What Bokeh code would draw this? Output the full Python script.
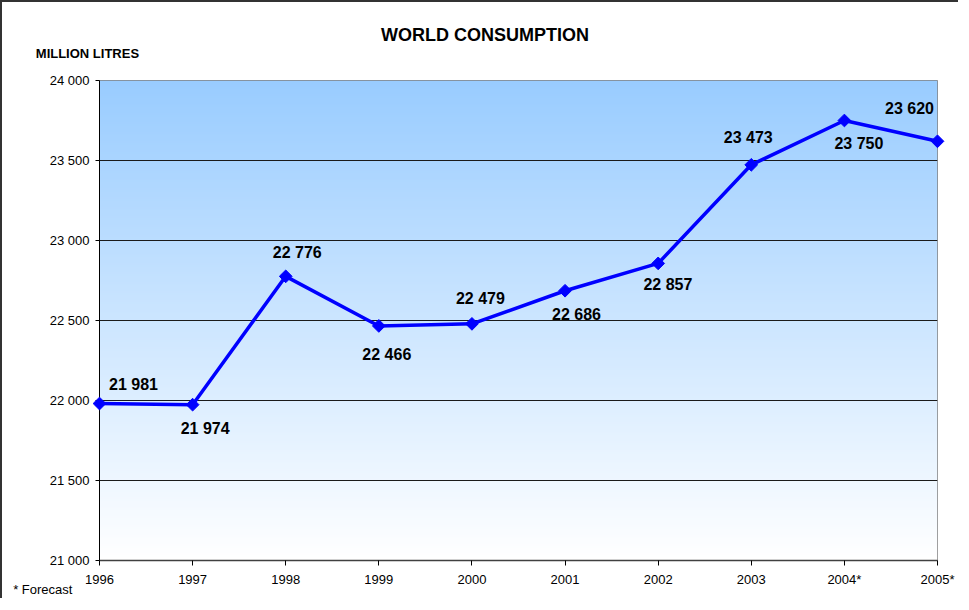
import numpy as np
from bokeh.plotting import figure
from bokeh.models import ColumnDataSource, FixedTicker, LabelSet, Range1d
from bokeh.core.properties import value
from bokeh.embed import file_html
from bokeh.resources import INLINE

# ---- data ----
years = ["1996", "1997", "1998", "1999", "2000", "2001", "2002", "2003", "2004*", "2005*"]
consumption = [21981, 21974, 22776, 22466, 22479, 22686, 22857, 23473, 23750, 23620]
value_labels = ["21 981", "21 974", "22 776", "22 466", "22 479", "22 686",
                "22 857", "23 473", "23 750", "23 620"]
y_ticks = [21000, 21500, 22000, 22500, 23000, 23500, 24000]
y_tick_labels = ["21 000", "21 500", "22 000", "22 500", "23 000", "23 500", "24 000"]
title_text = "WORLD CONSUMPTION"
unit_text = "MILLION LITRES"
note_text = "* Forecast"

# ---- label placement (screen px, up positive) ----
label_dx = [34, 12.5, 11.5, 8, 8.5, 11.5, 9.7, -3, 14.5, -28]
label_dy = [19, -24, 23.5, -28.4, 25, -23.5, -21, 27, -22.5, 32.5]

FONT = "Liberation Sans"
x = list(range(len(years)))
y0, y1 = y_ticks[0], y_ticks[-1]

p = figure(width=958, height=598, output_backend="svg", toolbar_location=None,
           x_range=Range1d(0, len(years) - 1), y_range=Range1d(y0, y1),
           min_border_left=97, min_border_right=23, min_border_top=78, min_border_bottom=40)
p.styles = {"border-left": "2px solid #333333", "border-top": "2px solid #333333"}
p.background_fill_color = "white"
p.border_fill_color = "white"
p.outline_line_color = "#808080"
p.outline_line_width = 1

# gradient background: #99CCFF at top to white at bottom
n = 256
t = np.linspace(0, 1, n)  # 0 bottom -> 1 top
top = np.array([153, 204, 255])
bot = np.array([255, 255, 255])
img = np.empty((n, 1), dtype=np.uint32)
view = img.view(dtype=np.uint8).reshape((n, 1, 4))
for i in range(n):
    c = bot + (top - bot) * t[i]
    view[i, 0, 0] = int(round(c[0]))
    view[i, 0, 1] = int(round(c[1]))
    view[i, 0, 2] = int(round(c[2]))
    view[i, 0, 3] = 255
p.image_rgba(image=[img], x=0, y=y0, dw=len(years) - 1, dh=y1 - y0, level="image")

# grid
p.xgrid.visible = False
p.ygrid.ticker = FixedTicker(ticks=y_ticks)
p.ygrid.grid_line_color = "#1a1a1a"
p.ygrid.grid_line_width = 1

# axes
p.yaxis.ticker = FixedTicker(ticks=y_ticks)
p.yaxis.major_label_overrides = dict(zip(y_ticks, y_tick_labels))
p.xaxis.ticker = FixedTicker(ticks=x)
p.xaxis.major_label_overrides = dict(zip(x, years))
for ax in (p.xaxis[0], p.yaxis[0]):
    ax.axis_line_color = "black"
    ax.axis_line_width = 1
    ax.major_tick_line_color = "black"
    ax.major_tick_in = 0
    ax.minor_tick_line_color = None
    ax.major_label_text_font = FONT
    ax.major_label_text_font_size = "13px"
    ax.major_label_text_color = "black"
p.yaxis.major_tick_out = 4
p.yaxis.major_label_standoff = 6
p.xaxis.major_tick_out = 5
p.xaxis.major_label_standoff = 6
p.xaxis.axis_line_color = "#404040"
p.xaxis.axis_line_width = 1.5

# series
src = ColumnDataSource(dict(x=x, y=consumption, lab=value_labels, dx=label_dx, dy=label_dy))
p.line("x", "y", source=src, line_color="#0000FF", line_width=3.5, level="overlay")
p.scatter("x", "y", source=src, marker="square", angle=np.pi / 4, size=9,
          fill_color="#0000FF", line_color="#0000FF", level="overlay")

labels = LabelSet(x="x", y="y", text="lab", source=src, x_offset="dx", y_offset="dy",
                  text_font=value(FONT), text_font_size="16px", text_font_style="bold",
                  text_align="center", text_baseline="middle", text_color="black")
p.add_layout(labels)

# texts outside the frame (text glyphs on overlay level are not clipped)
p.text(x=[0], y=[y1], text=[title_text], x_offset=385.5, y_offset=-46,
       text_font=value(FONT), text_font_size="18px", text_font_style="bold",
       text_align="center", text_baseline="middle", text_color="black", level="overlay")
p.text(x=[0], y=[y1], text=[unit_text], x_offset=-63.7, y_offset=-27,
       text_font=value(FONT), text_font_size="13px", text_font_style="bold",
       text_align="left", text_baseline="middle", text_color="black", level="overlay")
p.text(x=[0], y=[y0], text=[note_text], x_offset=-86.3, y_offset=29,
       text_font=value(FONT), text_font_size="13px",
       text_align="left", text_baseline="middle", text_color="black", level="overlay")

open("out.html", "w").write(file_html(p, INLINE))
